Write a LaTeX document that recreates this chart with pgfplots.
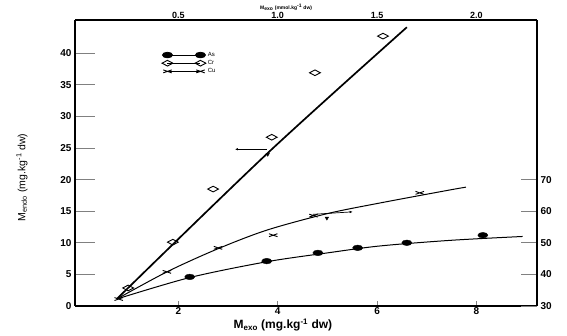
\documentclass[border=0pt]{standalone}
\usepackage{fontspec}
\setmainfont{Liberation Sans}
\usepackage{pgfplots}
\pgfplotsset{compat=1.18}
\usetikzlibrary{arrows.meta}

% scatter data: M_exo vs M_endo
\pgfplotstableread{
x     y
2.23  4.6
3.78  7.1
4.81  8.4
5.61  9.2
6.60  10.0
8.13  11.2
}\dataAs
\pgfplotstableread{
x     y
0.99  2.85
1.89  10.1
2.70  18.5
3.88  26.7
4.75  36.9
6.12  42.7
}\dataCr
\pgfplotstableread{
x     y
0.80  1.1
1.77  5.4
2.80  9.2
3.91  11.2
4.72  14.3
6.86  17.9
}\dataCu

\begin{document}
\begin{tikzpicture}[x=1pt,y=1pt]
\pgfplotsset{
  asmark/.style={mark=*, mark size=2.8pt, mark options={xscale=1.8, fill=black, draw=black}},
  crmark/.style={mark=diamond, mark size=3pt, mark options={xscale=2.4, yscale=0.95, fill=white, draw=black, line width=0.9pt}},
  cumark/.style={mark=x, mark size=2.6pt, mark options={xscale=2.3, yscale=0.8, draw=black, line width=0.9pt}},
}
% main axis: bottom x, left y, data
\begin{axis}[
  at={(75pt,30pt)}, anchor=south west,
  scale only axis, width=462pt, height=286pt,
  xmin=-0.08, xmax=9.22, ymin=0, ymax=45.25,
  axis x line*=bottom, axis y line*=left,
  x axis line style={-, line width=1.2pt},
  y axis line style={-, line width=1.6pt},
  xtick={2,4,6,8}, xtick style={draw=none},
  ytick={0,5,...,40}, ytick style={line width=0.8pt},
  tick align=inside, major tick length=20pt,
  tick label style={font=\bfseries\fontsize{10}{11}\selectfont},
  /pgf/number format/assume math mode=true,
  xticklabel style={yshift=2pt},
  xlabel={M\textsubscript{exo} (mg.kg\textsuperscript{-1} dw)},
  xlabel style={font=\bfseries\fontsize{12}{14}\selectfont, at={(rel axis cs:0.45,0)}, anchor=center, yshift=-19pt},
  ylabel={M\textsubscript{endo} (mg.kg\textsuperscript{-1} dw)},
  ylabel style={font=\fontsize{10.5}{12}\selectfont, at={(rel axis cs:-0.115,0.45)}, anchor=center},
  clip=false,
  legend image code/.code={\draw[#1] plot coordinates {(0pt,0pt) (33pt,0pt)};},
  legend style={at={(rel axis cs:0.188,0.895)}, anchor=north west, draw=none, fill=none,
    font=\fontsize{6}{7}\selectfont, inner sep=0pt, row sep=-1.5pt,
    /tikz/every even column/.append style={column sep=14pt}},
  legend cell align=left,
]
% legend entries
\addlegendimage{black, line width=0.8pt, asmark}
\addlegendentry{As}
\addlegendimage{black, line width=0.8pt, crmark}
\addlegendentry{Cr}
\addlegendimage{black, line width=0.8pt, cumark}
\addlegendentry{Cu}

% fitted curves
\addplot[black, line width=1.7pt, smooth, forget plot] coordinates {
  (0.76,1.1) (3.8,24.2) (6.60,44.1)};
\addplot[black, line width=1pt, smooth, forget plot] coordinates {
  (0.76,1.1) (1.77,5.4) (2.78,9.0) (3.78,12.0) (4.99,14.6) (6.06,16.3) (7.46,18.35) (7.79,18.8)};
\addplot[black, line width=1pt, smooth, forget plot] coordinates {
  (0.76,1.1) (2.23,4.5) (3.78,7.0) (5.0,8.4) (6.06,9.5) (7.5,10.4) (8.93,11.0)};

% measured points
\addplot[only marks, asmark, forget plot] table[x=x, y=y] {\dataAs};
\addplot[only marks, crmark, forget plot] table[x=x, y=y] {\dataCr};
\addplot[only marks, cumark, forget plot] table[x=x, y=y] {\dataCu};

% horizontal bars with arrow ends and their down marks
\addplot[black, line width=0.7pt, {Latex[length=3pt,width=2.5pt]}-, forget plot] coordinates {(3.14,24.8) (3.78,24.8)};
\addplot[black, line width=0.7pt, -{Latex[length=3pt,width=2.5pt]}, forget plot] coordinates {(4.71,14.5) (5.51,14.9)};
\addplot[only marks, mark=triangle*, mark size=2pt, mark options={rotate=180, fill=black}, forget plot] coordinates {(3.80,24.0) (4.99,13.9)};
\end{axis}

% bottom tick marks
\begin{axis}[
  at={(75pt,30pt)}, anchor=south west,
  scale only axis, width=462pt, height=286pt,
  xmin=-0.08, xmax=9.22, ymin=0, ymax=45.25,
  axis x line*=bottom, hide y axis,
  x axis line style={-, line width=1.2pt},
  xtick={2,4,6,8}, xticklabels={}, xtick style={line width=1pt},
  tick align=inside, major tick length=5pt,
]
\end{axis}

% top and right axes
\begin{axis}[
  at={(75pt,30pt)}, anchor=south west,
  scale only axis, width=462pt, height=286pt,
  xmin=-0.02, xmax=2.305, ymin=30, ymax=120.5,
  axis x line*=top, axis y line*=right,
  x axis line style={-, line width=1.2pt},
  y axis line style={-, line width=1.6pt},
  xtick={0.5,1.0,1.5,2.0}, xticklabels={0.5,1.0,1.5,2.0}, xtick style={draw=none},
  ytick={30,40,...,70}, ytick style={line width=0.8pt},
  tick align=inside, major tick length=16pt,
  xticklabel style={font=\bfseries\fontsize{9}{10}\selectfont, yshift=-2pt},
  yticklabel style={font=\bfseries\fontsize{10}{11}\selectfont},
  /pgf/number format/assume math mode=true,
  clip=false,
]
\node[font=\bfseries\fontsize{5}{6}\selectfont] at (rel axis cs:0.457,1) [yshift=13pt] {M\textsubscript{exo} (mmol.kg\textsuperscript{-1} dw)};
\end{axis}

\pgfresetboundingbox
\useasboundingbox (0,0) rectangle (567,336);
\end{tikzpicture}
\end{document}
